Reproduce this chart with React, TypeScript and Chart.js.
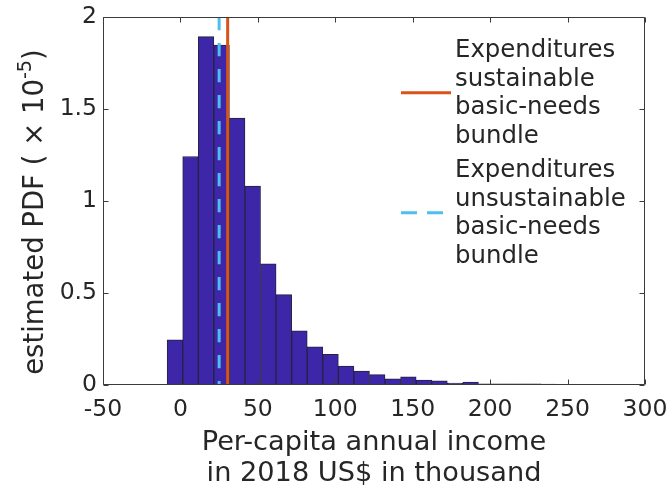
import React, { useEffect, useRef } from 'react';
import { Chart, registerables } from 'chart.js';

Chart.register(...registerables);

// ---- data ----
const binCenters = [
  -3.55, 6.5, 16.55, 26.6, 36.65, 46.7, 56.75, 66.8, 76.85, 86.9, 96.95, 107,
  117.05, 127.1, 137.15, 147.2, 157.25, 167.3, 177.35, 187.4, 197.45, 207.5,
  217.55, 227.6, 237.65,
];
const pdfValues = [
  0.246, 1.242, 1.893, 1.848, 1.451, 1.081, 0.658, 0.491, 0.294, 0.208, 0.167,
  0.103, 0.076, 0.056, 0.033, 0.045, 0.027, 0.023, 0.011, 0.016, 0.006, 0.006,
  0.006, 0.006, 0.005,
];
const sustainableX = 30.5;
const unsustainableX = 25;
const xTickValues = [-50, 0, 50, 100, 150, 200, 250, 300];
const xTickLabels = ['-50', '0', '50', '100', '150', '200', '250', '300'];
const yTickValues = [0, 0.5, 1, 1.5, 2];
const yTickLabels = ['0', '0.5', '1', '1.5', '2'];
const legendSustainable = ['Expenditures', 'sustainable', 'basic-needs', 'bundle'];
const legendUnsustainable = ['Expenditures', 'unsustainable', 'basic-needs', 'bundle'];
const xAxisTitle = ['Per-capita annual income', 'in 2018 US$ in thousand'];
const yTitleMain = 'estimated PDF ( \u00D7 10';
const yTitleSup = '-5';
const yTitleEnd = ')';

// ---- style ----
const FONT = '"DejaVu Sans", sans-serif';
const TEXT = '#262626';
const AXIS = '#3a3a3a';
const BAR_FILL = '#3E26A8';
const BAR_EDGE = '#25233f';
const ORANGE = '#D95319';
const CYAN = '#4DBEEE';

const decorPlugin = {
  id: 'decor',
  afterDatasetsDraw(chart: any) {
    const { ctx, chartArea: a, scales } = chart;
    const L = Math.round(a.left) + 0.5;
    const R = Math.round(a.right) - 0.5;
    const T = Math.round(a.top) + 0.5;
    const B = Math.round(a.bottom) - 0.5;
    ctx.save();
    ctx.strokeStyle = AXIS;
    ctx.lineWidth = 1;
    ctx.beginPath();
    ctx.rect(L, T, R - L, B - T);
    const tl = 5;
    xTickValues.forEach((v) => {
      const px = Math.round(scales.x.getPixelForValue(v)) + 0.5;
      ctx.moveTo(px, B);
      ctx.lineTo(px, B - tl);
      ctx.moveTo(px, T);
      ctx.lineTo(px, T + tl);
    });
    yTickValues.forEach((v) => {
      const py = Math.round(scales.y.getPixelForValue(v)) + 0.5;
      ctx.moveTo(L, py);
      ctx.lineTo(L + tl, py);
      ctx.moveTo(R, py);
      ctx.lineTo(R - tl, py);
    });
    ctx.stroke();
    ctx.restore();
  },
  afterDraw(chart: any) {
    const { ctx } = chart;
    ctx.save();
    // y axis title with superscript
    const F = 27.5;
    ctx.translate(43, 212);
    ctx.rotate(-Math.PI / 2);
    ctx.fillStyle = TEXT;
    ctx.textBaseline = 'alphabetic';
    ctx.textAlign = 'left';
    ctx.font = `${F}px ${FONT}`;
    const w1 = ctx.measureText(yTitleMain).width;
    const w3 = ctx.measureText(yTitleEnd).width;
    ctx.font = `${F * 0.7}px ${FONT}`;
    const w2 = ctx.measureText(yTitleSup).width;
    let x = -(w1 + w2 + w3) / 2;
    ctx.font = `${F}px ${FONT}`;
    ctx.fillText(yTitleMain, x, 0);
    x += w1;
    ctx.font = `${F * 0.7}px ${FONT}`;
    ctx.fillText(yTitleSup, x, -F * 0.42);
    x += w2;
    ctx.font = `${F}px ${FONT}`;
    ctx.fillText(yTitleEnd, x, 0);
    ctx.restore();

    // legend
    ctx.save();
    const LF = 24.4;
    const lineH = 28.5;
    ctx.font = `${LF}px ${FONT}`;
    ctx.fillStyle = TEXT;
    ctx.textBaseline = 'alphabetic';
    ctx.textAlign = 'left';
    const entries = [
      { lines: legendSustainable, color: ORANGE, dash: [] as number[], y0: 57 },
      { lines: legendUnsustainable, color: CYAN, dash: [16, 10], y0: 177 },
    ];
    entries.forEach((e) => {
      e.lines.forEach((t, i) => ctx.fillText(t, 455, e.y0 + i * lineH));
      const midY = e.y0 + 1.5 * lineH - 7;
      ctx.beginPath();
      ctx.strokeStyle = e.color;
      ctx.lineWidth = 3;
      ctx.setLineDash(e.dash);
      ctx.moveTo(401, midY);
      ctx.lineTo(451, midY);
      ctx.stroke();
    });
    ctx.restore();
  },
};

export default function App() {
  const ref = useRef<HTMLCanvasElement | null>(null);
  useEffect(() => {
    if (!ref.current) return;
    const chart = new Chart(ref.current, {
      type: 'bar',
      data: {
        datasets: [
          {
            type: 'line',
            label: 'sustainable',
            data: [
              { x: sustainableX, y: 0 },
              { x: sustainableX, y: 2 },
            ],
            borderColor: ORANGE,
            borderWidth: 3,
            pointRadius: 0,
            order: 0,
          } as any,
          {
            type: 'line',
            label: 'unsustainable',
            data: [
              { x: unsustainableX, y: 2 },
              { x: unsustainableX, y: 0 },
            ],
            borderColor: CYAN,
            borderWidth: 3,
            borderDash: [13.3, 12.7],
            pointRadius: 0,
            order: 0,
          } as any,
          {
            type: 'bar',
            label: 'PDF',
            data: binCenters.map((c, i) => ({ x: c, y: pdfValues[i] })),
            backgroundColor: BAR_FILL,
            borderColor: BAR_EDGE,
            borderWidth: 1,
            borderSkipped: false,
            barPercentage: 1,
            categoryPercentage: 1,
            order: 1,
          } as any,
        ],
      },
      options: {
        animation: false,
        responsive: false,
        maintainAspectRatio: false,
        layout: { padding: { top: 17, right: 25, left: 0, bottom: 0 } },
        plugins: {
          legend: { display: false },
          tooltip: { enabled: false },
        },
        scales: {
          x: {
            type: 'linear',
            min: -50,
            max: 300,
            offset: false,
            grid: { display: false, drawTicks: false, offset: false },
            border: { display: false },
            afterBuildTicks: (s: any) => {
              s.ticks = xTickValues.map((v) => ({ value: v }));
            },
            afterFit: (s: any) => {
              s.height = 104;
              s.paddingLeft = 0;
              s.paddingRight = 0;
            },
            ticks: {
              autoSkip: false,
              maxRotation: 0,
              padding: 11,
              color: TEXT,
              font: { family: FONT, size: 23.5 },
              callback: (v: any) => xTickLabels[xTickValues.indexOf(Number(v))] ?? '',
            },
            title: {
              display: true,
              text: xAxisTitle,
              color: TEXT,
              font: { family: FONT, size: 27.2, lineHeight: 1.14 },
              padding: { top: 0, bottom: 0 },
            },
          },
          y: {
            type: 'linear',
            min: 0,
            max: 2,
            grid: { display: false, drawTicks: false },
            border: { display: false },
            afterBuildTicks: (s: any) => {
              s.ticks = yTickValues.map((v) => ({ value: v }));
            },
            afterFit: (s: any) => {
              s.width = 103;
              s.paddingTop = 0;
              s.paddingBottom = 0;
            },
            ticks: {
              padding: 6,
              color: TEXT,
              font: { family: FONT, size: 23.5 },
              callback: (v: any) => yTickLabels[yTickValues.indexOf(Number(v))] ?? '',
            },
          },
        },
      } as any,
      plugins: [decorPlugin],
    });
    return () => chart.destroy();
  }, []);
  return (
    <div style={{ position: 'fixed', left: 0, top: 0, width: 670, height: 489, background: '#fff' }}>
      <canvas ref={ref} width={670} height={489} style={{ display: 'block', width: 670, height: 489 }} />
    </div>
  );
}
